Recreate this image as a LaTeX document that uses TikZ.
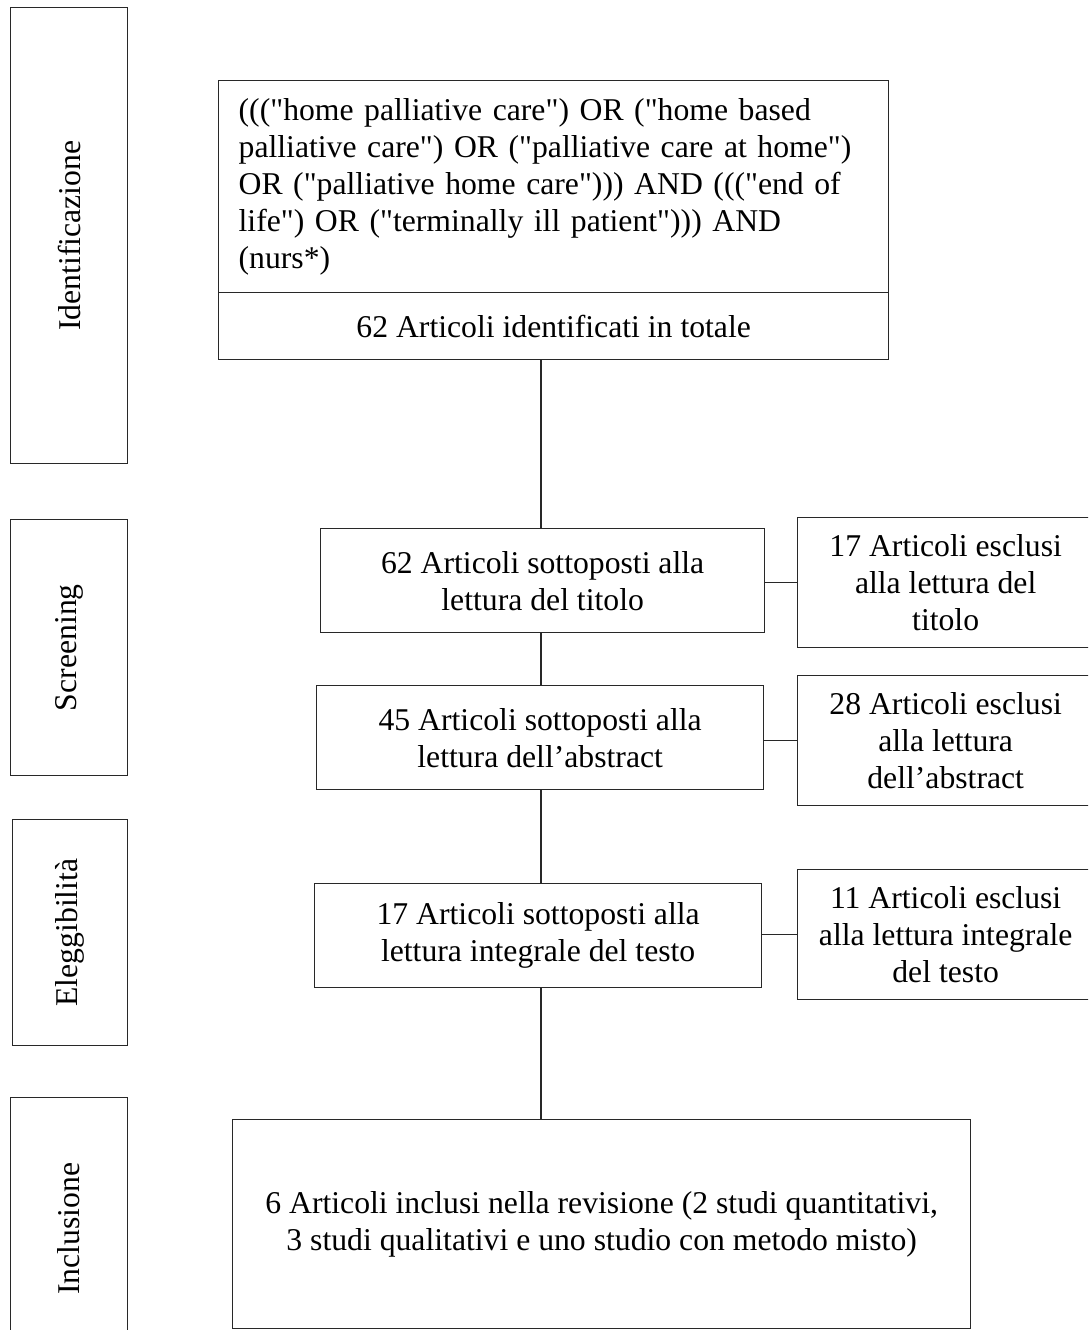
\documentclass[tikz,border=0pt]{standalone}
\usepackage{fontspec}
\setmainfont{Liberation Serif}[Ligatures=TeXOff]
\usepackage{xcolor}
\usepackage{tikz}
\usetikzlibrary{positioning}
\definecolor{ink}{RGB}{40,40,40}
\def\SpX{541}
\def\ExX{797}
\tikzset{
  phase/.style={
    draw=ink, line width=1.3pt, rotate=90, anchor=north east,
    inner sep=0pt, font=\fontsize{31.7}{37}\selectfont,
  },
  stepbox/.style={
    draw=ink, line width=1.3pt, anchor=north west,
    align=center, inner sep=0pt, font=\fontsize{31.7}{37}\selectfont,
  },
  link/.style={draw=ink, line width=1.3pt},
}
\begin{document}
\begin{tikzpicture}[x=1pt,y=-1pt]
  \useasboundingbox (0,0) rectangle (1088,1330);
  \clip (0,0) rectangle (1088,1330);

  % phase labels on the left
  \node[phase, minimum width=456pt, minimum height=117pt] (pId) at (10,7) {Identificazione};
  \node[phase, minimum width=256pt, minimum height=117pt] (pScr) at (10,519) {Screening};
  \node[phase, minimum width=226pt, minimum height=115pt] (pEl) at (12,819) {Eleggibilità};
  \node[phase, minimum width=262pt, minimum height=117pt] (pInc) at (10,1097) {Inclusione};

  % main column
  \node[stepbox, align=left, text width=630pt, inner xsep=20pt, minimum height=212pt] (query) at (218,80)
    {((("home palliative care") OR ("home based\\
     palliative care") OR ("palliative care at home")\\
     OR ("palliative home care"))) AND ((("end of\\
     life") OR ("terminally ill patient"))) AND\\
     (nurs*)};
  \node[stepbox, minimum width=670pt, minimum height=67pt] (total) at (218,292) {62 Articoli identificati in totale};
  \node[stepbox, minimum width=444pt, minimum height=104pt] (title) at (320,528) {62 Articoli sottoposti alla\\lettura del titolo};
  \node[stepbox, minimum width=447pt, minimum height=104pt] (abstr) at (316,685) {45 Articoli sottoposti alla\\lettura dell’abstract};
  \node[stepbox, minimum width=447pt, minimum height=104pt] (full) at (314,883) {17 Articoli sottoposti alla\\lettura integrale del testo};
  \node[stepbox, minimum width=738pt, minimum height=209pt] (incl) at (232,1119) {6 Articoli inclusi nella revisione (2 studi quantitativi,\\3 studi qualitativi e uno studio con metodo misto)};

  % excluded column
  \node[stepbox, minimum width=296pt, minimum height=130pt] (exTitle) at (\ExX,517) {17 Articoli esclusi\\alla lettura del\\titolo};
  \node[stepbox, minimum width=296pt, minimum height=130pt] (exAbstr) at (\ExX,675) {28 Articoli esclusi\\alla lettura\\dell’abstract};
  \node[stepbox, minimum width=296pt, minimum height=130pt] (exFull) at (\ExX,869) {11 Articoli esclusi\\alla lettura integrale\\del testo};

  % connectors
  \coordinate (spine) at (\SpX,0);
  \draw[link] (total.south -| spine) -- (title.north -| spine);
  \draw[link] (title.south -| spine) -- (abstr.north -| spine);
  \draw[link] (abstr.south -| spine) -- (full.north -| spine);
  \draw[link] (full.south -| spine) -- (incl.north -| spine);
  \draw[link] (exTitle.west -| title.east) -- (exTitle.west);
  \draw[link] (exAbstr.west -| abstr.east) -- (exAbstr.west);
  \draw[link] (exFull.west -| full.east) -- (exFull.west);
\end{tikzpicture}
\end{document}
